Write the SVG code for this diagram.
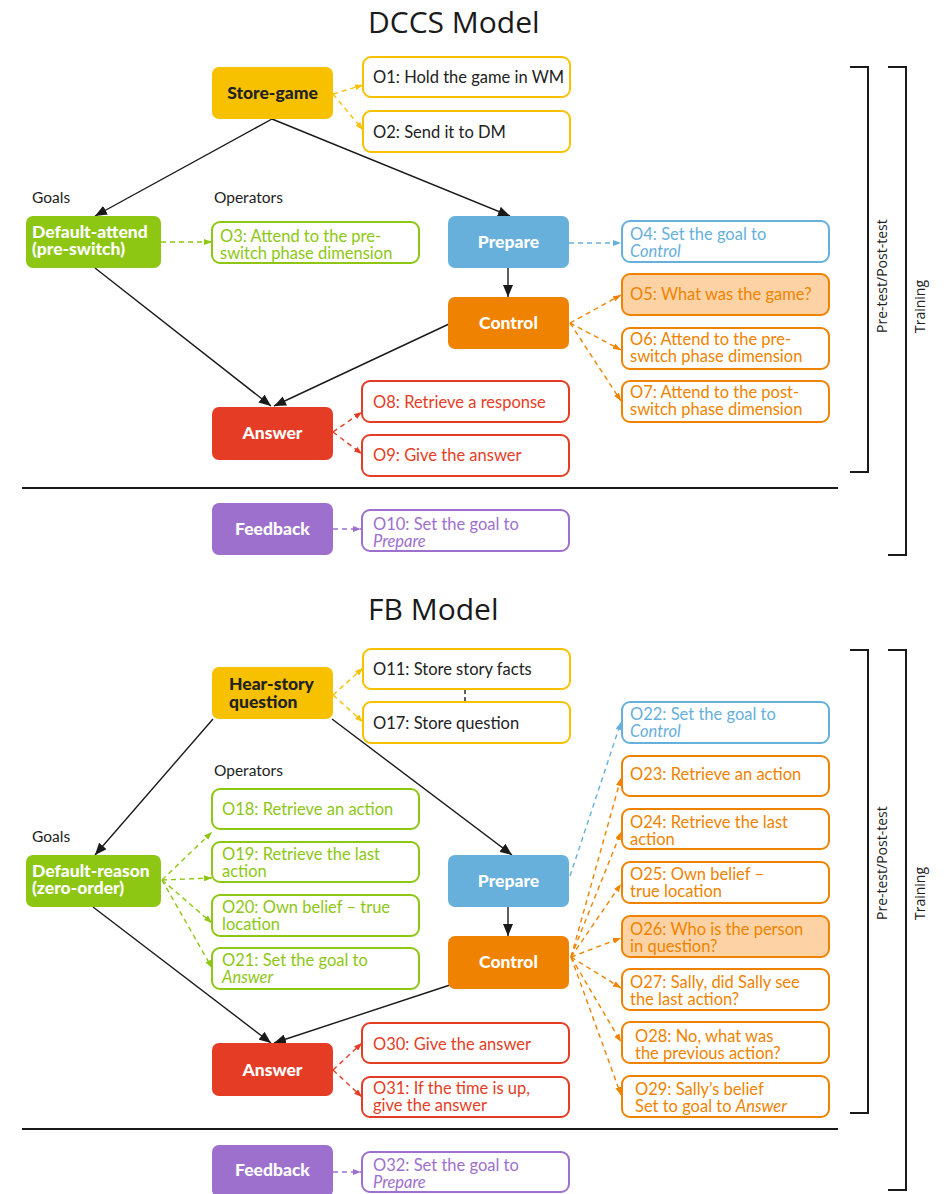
<svg xmlns="http://www.w3.org/2000/svg" width="949" height="1194" viewBox="0 0 949 1194">
  <defs>
    <style>
      .title { font-family: "Open Sans", "Liberation Sans", sans-serif; font-size: 30px; fill: #1a1a1a; }
      .lbl { font-family: "Lato", "Liberation Sans", sans-serif; font-size: 15.5px; fill: #222; }
      .side { font-family: "Open Sans", "Liberation Sans", sans-serif; font-size: 14px; fill: #222; }
      .goal { stroke: none; }
      .gtxt { font-family: "Lato", "Liberation Sans", sans-serif; font-size: 17.5px; font-weight: 900; fill: #fff; }
      .gtxt.dark { fill: #222; }
      .op { fill: #fff; stroke-width: 2; }
      .otxt { font-family: "Lato", "Liberation Sans", sans-serif; font-size: 16.5px; }
      .yel { stroke: #F7C100; } .yelf { fill: #F7C100; }
      .grn { stroke: #8DC713; } .grnf { fill: #8DC713; }
      .blu { stroke: #67B0DC; } .bluf { fill: #67B0DC; }
      .org { stroke: #EF8300; } .orgf { fill: #EF8300; }
      .red { stroke: #E53D25; } .redf { fill: #E53D25; }
      .pur { stroke: #9D70CE; } .purf { fill: #9D70CE; }
      .hi { fill: #FDD3A5; }
      .solid { stroke: #1a1a1a; stroke-width: 1.4; fill: none; marker-end: url(#ah); }
      .dash { stroke-width: 1.4; fill: none; stroke-dasharray: 5 4; }
      .bracket { stroke: #1a1a1a; stroke-width: 2; fill: none; }
      .sep { stroke: #1a1a1a; stroke-width: 2; }
    </style>
    <marker id="ah" viewBox="0 0 12 10" refX="12" refY="5" markerWidth="12" markerHeight="10" markerUnits="userSpaceOnUse" orient="auto">
      <path d="M0,0 L12,5 L0,10 z" fill="#1a1a1a"/>
    </marker>
    <marker id="ay" viewBox="0 0 8 6" refX="8" refY="3" markerWidth="8" markerHeight="6" markerUnits="userSpaceOnUse" orient="auto"><path d="M0,0 L8,3 L0,6 z" fill="#F7C100"/></marker>
    <marker id="ag" viewBox="0 0 8 6" refX="8" refY="3" markerWidth="8" markerHeight="6" markerUnits="userSpaceOnUse" orient="auto"><path d="M0,0 L8,3 L0,6 z" fill="#8DC713"/></marker>
    <marker id="ab" viewBox="0 0 8 6" refX="8" refY="3" markerWidth="8" markerHeight="6" markerUnits="userSpaceOnUse" orient="auto"><path d="M0,0 L8,3 L0,6 z" fill="#67B0DC"/></marker>
    <marker id="ao" viewBox="0 0 8 6" refX="8" refY="3" markerWidth="8" markerHeight="6" markerUnits="userSpaceOnUse" orient="auto"><path d="M0,0 L8,3 L0,6 z" fill="#EF8300"/></marker>
    <marker id="ar" viewBox="0 0 8 6" refX="8" refY="3" markerWidth="8" markerHeight="6" markerUnits="userSpaceOnUse" orient="auto"><path d="M0,0 L8,3 L0,6 z" fill="#E53D25"/></marker>
    <marker id="ap" viewBox="0 0 8 6" refX="8" refY="3" markerWidth="8" markerHeight="6" markerUnits="userSpaceOnUse" orient="auto"><path d="M0,0 L8,3 L0,6 z" fill="#9D70CE"/></marker>
  </defs>

  <rect width="949" height="1194" fill="#fff"/>

  <!-- titles and section labels -->
  <text class="title" x="368" y="33">DCCS Model</text>
  <text class="title" x="368" y="620">FB Model</text>
  <text class="lbl" x="32" y="203">Goals</text>
  <text class="lbl" x="214" y="203">Operators</text>
  <text class="lbl" x="214" y="776">Operators</text>
  <text class="lbl" x="32" y="842">Goals</text>

  <!-- separators and phase brackets -->
  <g id="frame">
    <line class="sep" x1="22" y1="488" x2="838" y2="488"/>
    <line class="sep" x1="22" y1="1129" x2="838" y2="1129"/>
    <path class="bracket" d="M850,67 H868 V472 H850"/>
    <path class="bracket" d="M888,67 H906 V555 H888"/>
    <text class="side" font-size="13" transform="translate(887,333) rotate(-90)">Pre-test/Post-test</text>
    <text class="side" transform="translate(925,333) rotate(-90)">Training</text>
    <path class="bracket" d="M850,650 H868 V1113 H850"/>
    <path class="bracket" d="M888,650 H906 V1190 H888"/>
    <text class="side" font-size="13" transform="translate(887,920) rotate(-90)">Pre-test/Post-test</text>
    <text class="side" transform="translate(925,920) rotate(-90)">Training</text>
  </g>

  <!-- connectors -->
  <g id="connectors">
    <!-- DCCS goal transitions -->
    <line class="solid" x1="272" y1="119" x2="95" y2="216"/>
    <line class="solid" x1="272" y1="119" x2="510" y2="216"/>
    <line class="solid" x1="508" y1="268" x2="508" y2="297"/>
    <line class="solid" x1="95" y1="268" x2="271" y2="406"/>
    <line class="solid" x1="449" y1="324" x2="274" y2="406"/>
    <!-- DCCS operator links -->
    <line class="dash yel" x1="333" y1="94" x2="363" y2="85" marker-end="url(#ay)"/>
    <line class="dash yel" x1="333" y1="94" x2="363" y2="130" marker-end="url(#ay)"/>
    <line class="dash grn" x1="161" y1="242" x2="212" y2="242" marker-end="url(#ag)"/>
    <line class="dash blu" x1="569" y1="243" x2="621" y2="243" marker-end="url(#ab)"/>
    <line class="dash org" x1="570" y1="323" x2="621" y2="295" marker-end="url(#ao)"/>
    <line class="dash org" x1="570" y1="323" x2="621" y2="350" marker-end="url(#ao)"/>
    <line class="dash org" x1="570" y1="323" x2="621" y2="401" marker-end="url(#ao)"/>
    <line class="dash red" x1="333" y1="432" x2="362" y2="412" marker-end="url(#ar)"/>
    <line class="dash red" x1="333" y1="432" x2="362" y2="454" marker-end="url(#ar)"/>
    <line class="dash pur" x1="333" y1="529" x2="361" y2="529" marker-end="url(#ap)"/>

    <!-- FB goal transitions -->
    <line class="solid" x1="213" y1="719" x2="95" y2="855"/>
    <line class="solid" x1="332" y1="719" x2="512" y2="855"/>
    <line class="solid" x1="508" y1="907" x2="508" y2="936"/>
    <line class="solid" x1="93" y1="907" x2="271" y2="1043"/>
    <line class="solid" x1="450" y1="985" x2="274" y2="1043"/>
    <!-- FB operator links -->
    <line class="dash yel" x1="333" y1="695" x2="363" y2="668" marker-end="url(#ay)"/>
    <line class="dash yel" x1="333" y1="695" x2="363" y2="722" marker-end="url(#ay)"/>
    <line stroke="#1a1a1a" stroke-width="1.4" stroke-dasharray="4 3" x1="465" y1="690" x2="465" y2="702"/>
    <line class="dash grn" x1="162" y1="880" x2="212" y2="832" marker-end="url(#ag)"/>
    <line class="dash grn" x1="162" y1="880" x2="212" y2="878" marker-end="url(#ag)"/>
    <line class="dash grn" x1="162" y1="880" x2="212" y2="923" marker-end="url(#ag)"/>
    <line class="dash grn" x1="162" y1="880" x2="212" y2="968" marker-end="url(#ag)"/>
    <line class="dash blu" x1="570" y1="876" x2="621" y2="722" marker-end="url(#ab)"/>
    <line class="dash org" x1="571" y1="957" x2="621" y2="778" marker-end="url(#ao)"/>
    <line class="dash org" x1="571" y1="957" x2="621" y2="832" marker-end="url(#ao)"/>
    <line class="dash org" x1="571" y1="957" x2="621" y2="884" marker-end="url(#ao)"/>
    <line class="dash org" x1="571" y1="957" x2="621" y2="938" marker-end="url(#ao)"/>
    <line class="dash org" x1="571" y1="957" x2="621" y2="988" marker-end="url(#ao)"/>
    <line class="dash org" x1="571" y1="957" x2="621" y2="1042" marker-end="url(#ao)"/>
    <line class="dash org" x1="571" y1="957" x2="621" y2="1095" marker-end="url(#ao)"/>
    <line class="dash red" x1="333" y1="1070" x2="362" y2="1043" marker-end="url(#ar)"/>
    <line class="dash red" x1="333" y1="1070" x2="362" y2="1097" marker-end="url(#ar)"/>
    <line class="dash pur" x1="333" y1="1172" x2="361" y2="1172" marker-end="url(#ap)"/>
  </g>

  <!-- DCCS goals -->
  <g id="dccs-store-game"><rect class="goal yelf" x="212" y="67" width="121" height="52" rx="7"/><text class="gtxt dark" x="272.5" y="99" text-anchor="middle">Store-game</text></g>
  <g id="dccs-default-attend"><rect class="goal grnf" x="26" y="216" width="135" height="52" rx="7"/><text class="gtxt" x="32" y="238">Default-attend<tspan x="32" dy="17">(pre-switch)</tspan></text></g>
  <g id="dccs-prepare"><rect class="goal bluf" x="448" y="216" width="121" height="52" rx="7"/><text class="gtxt" x="508.5" y="248" text-anchor="middle">Prepare</text></g>
  <g id="dccs-control"><rect class="goal orgf" x="448" y="297" width="121" height="52" rx="7"/><text class="gtxt" x="508.5" y="329" text-anchor="middle">Control</text></g>
  <g id="dccs-answer"><rect class="goal redf" x="212" y="407" width="121" height="53" rx="7"/><text class="gtxt" x="272.5" y="439" text-anchor="middle">Answer</text></g>
  <g id="dccs-feedback"><rect class="goal purf" x="212" y="503" width="121" height="52" rx="7"/><text class="gtxt" x="272.5" y="535" text-anchor="middle">Feedback</text></g>

  <!-- DCCS operators -->
  <g id="o1"><rect class="op yel" x="363" y="57" width="207" height="40" rx="8"/><text class="otxt" fill="#222" x="373" y="83">O1: Hold the game in WM</text></g>
  <g id="o2"><rect class="op yel" x="363" y="111" width="207" height="41" rx="8"/><text class="otxt" fill="#222" x="373" y="138">O2: Send it to DM</text></g>
  <g id="o3"><rect class="op grn" x="212" y="222" width="207" height="41" rx="8"/><text class="otxt grnf" x="220" y="242">O3: Attend to the pre-<tspan x="220" dy="16.5">switch phase dimension</tspan></text></g>
  <g id="o4"><rect class="op blu" x="622" y="221" width="207" height="41" rx="8"/><text class="otxt bluf" x="630" y="240">O4: Set the goal to<tspan x="630" dy="16.5" font-style="italic">Control</tspan></text></g>
  <g id="o5"><rect class="op org hi" x="622" y="274" width="207" height="41" rx="8" style="fill:#FDD3A5"/><text class="otxt orgf" x="630" y="300">O5: What was the game?</text></g>
  <g id="o6"><rect class="op org" x="622" y="328" width="207" height="41" rx="8"/><text class="otxt orgf" x="630" y="345">O6: Attend to the pre-<tspan x="630" dy="17">switch phase dimension</tspan></text></g>
  <g id="o7"><rect class="op org" x="622" y="381" width="207" height="41" rx="8"/><text class="otxt orgf" x="630" y="398">O7: Attend to the post-<tspan x="630" dy="17">switch phase dimension</tspan></text></g>
  <g id="o8"><rect class="op red" x="362" y="381" width="207" height="41" rx="8"/><text class="otxt redf" x="373" y="408">O8: Retrieve a response</text></g>
  <g id="o9"><rect class="op red" x="362" y="435" width="207" height="41" rx="8"/><text class="otxt redf" x="373" y="461">O9: Give the answer</text></g>
  <g id="o10"><rect class="op pur" x="362" y="510" width="207" height="41" rx="8"/><text class="otxt purf" x="373" y="530">O10: Set the goal to<tspan x="373" dy="17" font-style="italic">Prepare</tspan></text></g>

  <!-- FB goals -->
  <g id="fb-hear-story"><rect class="goal yelf" x="212" y="667" width="121" height="52" rx="7"/><text class="gtxt dark" x="229" y="690">Hear-story<tspan x="229" dy="18">question</tspan></text></g>
  <g id="fb-default-reason"><rect class="goal grnf" x="26" y="855" width="135" height="52" rx="7"/><text class="gtxt" x="32" y="877">Default-reason<tspan x="32" dy="17">(zero-order)</tspan></text></g>
  <g id="fb-prepare"><rect class="goal bluf" x="448" y="855" width="121" height="52" rx="7"/><text class="gtxt" x="508.5" y="887" text-anchor="middle">Prepare</text></g>
  <g id="fb-control"><rect class="goal orgf" x="448" y="936" width="121" height="53" rx="7"/><text class="gtxt" x="508.5" y="968" text-anchor="middle">Control</text></g>
  <g id="fb-answer"><rect class="goal redf" x="212" y="1043" width="121" height="53" rx="7"/><text class="gtxt" x="272.5" y="1076" text-anchor="middle">Answer</text></g>
  <g id="fb-feedback"><rect class="goal purf" x="212" y="1145" width="121" height="52" rx="7"/><text class="gtxt" x="272.5" y="1176" text-anchor="middle">Feedback</text></g>

  <!-- FB operators -->
  <g id="o11"><rect class="op yel" x="363" y="649" width="207" height="40" rx="8"/><text class="otxt" fill="#222" x="373" y="675">O11: Store story facts</text></g>
  <g id="o17"><rect class="op yel" x="363" y="702" width="207" height="41" rx="8"/><text class="otxt" fill="#222" x="373" y="729">O17: Store question</text></g>
  <g id="o18"><rect class="op grn" x="212" y="789" width="207" height="40" rx="8"/><text class="otxt grnf" x="222" y="815">O18: Retrieve an action</text></g>
  <g id="o19"><rect class="op grn" x="212" y="842" width="207" height="40" rx="8"/><text class="otxt grnf" x="222" y="860">O19: Retrieve the last<tspan x="222" dy="17">action</tspan></text></g>
  <g id="o20"><rect class="op grn" x="212" y="895" width="207" height="41" rx="8"/><text class="otxt grnf" x="222" y="913">O20: Own belief – true<tspan x="222" dy="17">location</tspan></text></g>
  <g id="o21"><rect class="op grn" x="212" y="948" width="207" height="41" rx="8"/><text class="otxt grnf" x="222" y="966">O21: Set the goal to<tspan x="222" dy="17" font-style="italic">Answer</tspan></text></g>
  <g id="o22"><rect class="op blu" x="622" y="702" width="207" height="41" rx="8"/><text class="otxt bluf" x="630" y="720">O22: Set the goal to<tspan x="630" dy="17" font-style="italic">Control</tspan></text></g>
  <g id="o23"><rect class="op org" x="622" y="756" width="207" height="40" rx="8"/><text class="otxt orgf" x="630" y="780">O23: Retrieve an action</text></g>
  <g id="o24"><rect class="op org" x="622" y="809" width="207" height="40" rx="8"/><text class="otxt orgf" x="630" y="828">O24: Retrieve the last<tspan x="630" dy="17">action</tspan></text></g>
  <g id="o25"><rect class="op org" x="622" y="862" width="207" height="41" rx="8"/><text class="otxt orgf" x="630" y="880">O25: Own belief –<tspan x="630" dy="17">true location</tspan></text></g>
  <g id="o26"><rect class="op org" x="622" y="916" width="207" height="41" rx="8" style="fill:#FDD3A5"/><text class="otxt orgf" x="630" y="935">O26: Who is the person<tspan x="630" dy="17">in question?</tspan></text></g>
  <g id="o27"><rect class="op org" x="622" y="969" width="207" height="41" rx="8"/><text class="otxt orgf" x="630" y="988">O27: Sally, did Sally see<tspan x="630" dy="17">the last action?</tspan></text></g>
  <g id="o28"><rect class="op org" x="622" y="1022" width="207" height="41" rx="8"/><text class="otxt orgf" x="635" y="1042">O28: No, what was<tspan x="635" dy="17">the previous action?</tspan></text></g>
  <g id="o29"><rect class="op org" x="622" y="1076" width="207" height="41" rx="8"/><text class="otxt orgf" x="635" y="1095">O29: Sally’s belief<tspan x="635" dy="17">Set to goal to </tspan><tspan font-style="italic">Answer</tspan></text></g>
  <g id="o30"><rect class="op red" x="362" y="1023" width="207" height="40" rx="8"/><text class="otxt redf" x="373" y="1050">O30: Give the answer</text></g>
  <g id="o31"><rect class="op red" x="362" y="1077" width="207" height="40" rx="8"/><text class="otxt redf" x="373" y="1094">O31: If the time is up,<tspan x="373" dy="17">give the answer</tspan></text></g>
  <g id="o32"><rect class="op pur" x="362" y="1152" width="207" height="40" rx="8"/><text class="otxt purf" x="373" y="1171">O32: Set the goal to<tspan x="373" dy="17" font-style="italic">Prepare</tspan></text></g>
</svg>
